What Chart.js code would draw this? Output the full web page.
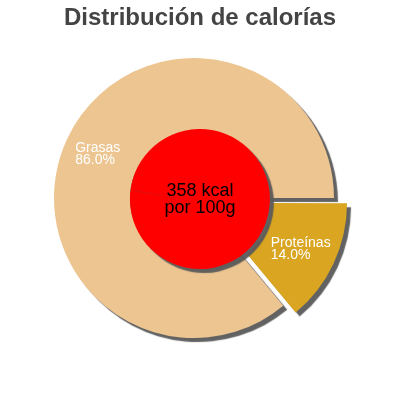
<!DOCTYPE html>
<html>
<head>
<meta charset="utf-8">
<script src="https://cdn.jsdelivr.net/npm/chart.js@4.4.1/dist/chart.umd.min.js"></script>
<style>
  html, body { margin: 0; padding: 0; background: #fff; }
  #wrap { width: 400px; height: 400px; }
</style>
</head>
<body>
<div id="wrap"><canvas id="myChart" width="400" height="400"></canvas></div>
<script>

// chart data
var chartTitle = "Distribución de calorías";
var categories = ["Proteínas", "Grasas"];
var percentages = [14.0, 86.0];
var sliceColors = ["#DAA520", "#EDC591"];
var energyKcal = [358];
var energyUnit = "por 100g";

// shadow under every dataset
var shadowPlugin = {
    id: "shadow",
    beforeDatasetDraw: function(chart) {
        var ctx = chart.ctx;
        ctx.save();
        ctx.shadowColor = "rgba(90,90,90,0.95)";
        ctx.shadowOffsetX = 4;
        ctx.shadowOffsetY = 4;
        ctx.shadowBlur = 1;
    },
    afterDatasetDraw: function(chart) {
        chart.ctx.restore();
    }
};

// white slice labels, title and the kcal text in the middle
var labelPlugin = {
    id: "labels",
    afterDatasetsDraw: function(chart) {
        var ctx = chart.ctx;
        var ring = chart.getDatasetMeta(0);

        ctx.save();
        ctx.fillStyle = "#ffffff";
        ctx.font = "14px 'Liberation Sans', Arial, sans-serif";
        ctx.textAlign = "left";
        ctx.textBaseline = "alphabetic";
        ring.data.forEach(function(arc, i) {
            var mid = (arc.startAngle + arc.endAngle) / 2;
            var shift = (arc.options.offset || 0) / 4;
            var r = arc.outerRadius * 0.76;
            var cx = arc.x + Math.cos(mid) * (shift + r);
            var cy = arc.y + Math.sin(mid) * (shift + r);
            var line1 = categories[i];
            var line2 = percentages[i].toFixed(1) + "%";
            var w = Math.max(ctx.measureText(line1).width, ctx.measureText(line2).width);
            ctx.fillText(line1, cx - w / 2, cy - 1);
            ctx.fillText(line2, cx - w / 2, cy + 11);
        });

        var dot = chart.getDatasetMeta(1).data[0];
        var half = (dot.startAngle + dot.endAngle) / 2;
        var s = (dot.options.offset || 0) / 4;
        var dx = dot.x + Math.cos(half) * s;
        var dy = dot.y + Math.sin(half) * s;
        ctx.fillStyle = "#000000";
        ctx.font = "18px 'Liberation Sans', Arial, sans-serif";
        ctx.textAlign = "center";
        ctx.fillText(energyKcal[0] + " kcal", dx, dy - 3);
        ctx.fillText(energyUnit, dx, dy + 14);

        ctx.fillStyle = "#444444";
        ctx.font = "bold 24px 'Liberation Sans', Arial, sans-serif";
        ctx.fillText(chartTitle, 200, 25);
        ctx.restore();
    }
};

document.addEventListener("DOMContentLoaded", function()
{
    var el = document.getElementById("myChart");

    new Chart(el, {
        type: "doughnut",
        data: {
            labels: categories,
            datasets: [
                {
                    data: percentages,
                    backgroundColor: sliceColors,
                    borderWidth: 0,
                    offset: [46, 0],
                    weight: 76,
                    rotation: 90,
                    order: 1
                },
                {
                    // a bit over one turn so the offset does not leave a notch
                    data: energyKcal,
                    backgroundColor: "#FF0000",
                    borderWidth: 0,
                    offset: 24,
                    weight: 64,
                    rotation: -80.9,
                    circumference: 361.8,
                    order: 0
                }
            ]
        },
        options: {
            responsive: false,
            animation: false,
            events: [],
            cutout: 0,
            radius: 140,
            layout: {
                padding: { top: 31, bottom: 35, left: 0, right: 12 }
            },
            plugins: {
                legend: { display: false },
                tooltip: { enabled: false },
                title: { display: false }
            }
        },
        plugins: [shadowPlugin, labelPlugin]
    });
})
</script>
</body>
</html>
